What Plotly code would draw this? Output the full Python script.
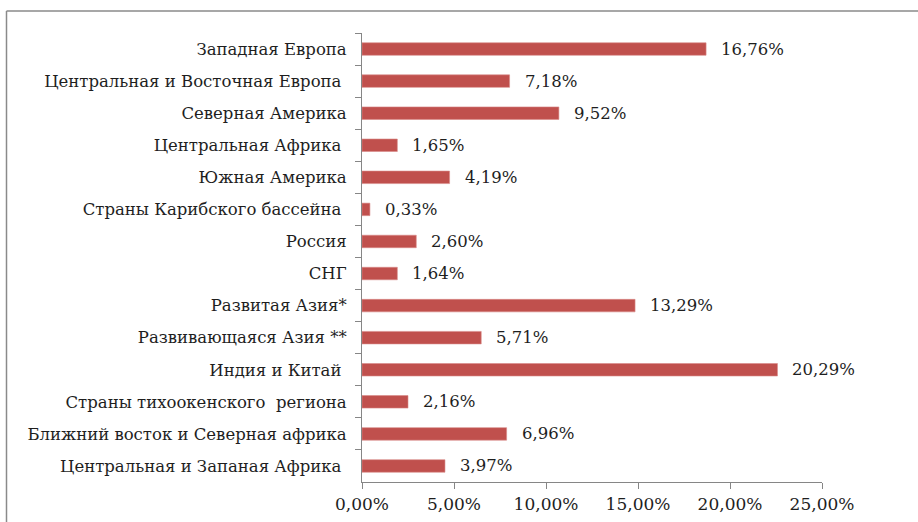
import plotly.graph_objects as go

categories = [
    "Западная Европа",
    "Центральная и Восточная Европа ",
    "Северная Америка",
    "Центральная Африка ",
    "Южная Америка",
    "Страны Карибского бассейна ",
    "Россия",
    "СНГ",
    "Развитая Азия*",
    "Развивающаяся Азия **",
    "Индия и Китай ",
    "Страны тихоокенского  региона",
    "Ближний восток и Северная африка",
    "Центральная и Запаная Африка ",
]
# bar lengths as read against the x axis
bar_values = [18.70, 8.02, 10.70, 1.92, 4.76, 0.43, 2.95, 1.92, 14.84, 6.48, 22.58, 2.50, 7.86, 4.51]
# data labels as printed next to the bars
value_labels = ["16,76%", "7,18%", "9,52%", "1,65%", "4,19%", "0,33%", "2,60%",
                "1,64%", "13,29%", "5,71%", "20,29%", "2,16%", "6,96%", "3,97%"]
x_ticks = [0, 5, 10, 15, 20, 25]
x_tick_text = [f"{v:.2f}".replace(".", ",") + "%" for v in x_ticks]

FONT = "DejaVu Serif"
FS_CAT = 16.5
FS_VAL = 16.5
FS_TICK = 17
AXIS_COLOR = "#868686"
TXT = "#1e1e1e"

fig = go.Figure(go.Bar(
    x=bar_values,
    y=categories,
    orientation="h",
    marker=dict(color="#C0504D", line=dict(color="#D98A88", width=0.6)),
    hoverinfo="skip",
))

for v, c, t in zip(bar_values, categories, value_labels):
    fig.add_annotation(x=v, y=c, text=t, showarrow=False, xanchor="left",
                       xshift=13, yshift=0,
                       font=dict(family=FONT, size=FS_VAL, color=TXT))

L, R, T, B = 362, 96, 33, 40
W, H = 918, 522
pw, ph = W - L - R, H - T - B

# outer chart frame (left and top edges visible)
fx = (6.5 - L) / pw
fy = (H - B - 11) / ph
fig.add_shape(type="line", xref="paper", yref="paper", x0=fx, x1=(W + 5 - L) / pw,
              y0=fy, y1=fy, line=dict(color="#8a8a8a", width=1.5))
fig.add_shape(type="line", xref="paper", yref="paper", x0=fx, x1=fx,
              y0=fy, y1=-(B + 5) / ph, line=dict(color="#8a8a8a", width=1.5))

fig.update_layout(
    width=W, height=H,
    margin=dict(l=L, r=R, t=T, b=B),
    paper_bgcolor="white", plot_bgcolor="white",
    bargap=0.61,
    showlegend=False,
    font=dict(family=FONT, size=FS_CAT, color=TXT),
)
fig.update_xaxes(
    range=[0, 25], tickvals=x_ticks, ticktext=x_tick_text,
    showgrid=False, zeroline=False, automargin=False,
    showline=True, linecolor=AXIS_COLOR, linewidth=1,
    ticks="outside", ticklen=6, tickcolor=AXIS_COLOR,
    ticklabelstandoff=1,
    tickfont=dict(family=FONT, size=FS_TICK, color=TXT),
)
fig.update_yaxes(
    autorange="reversed", showgrid=False, zeroline=False, automargin=False,
    showline=True, linecolor=AXIS_COLOR, linewidth=1,
    ticks="outside", ticklen=6, tickcolor=AXIS_COLOR, tickson="boundaries",
    ticklabelstandoff=11,
    tickfont=dict(family=FONT, size=FS_CAT, color=TXT),
)

fig.write_html("out.html")
